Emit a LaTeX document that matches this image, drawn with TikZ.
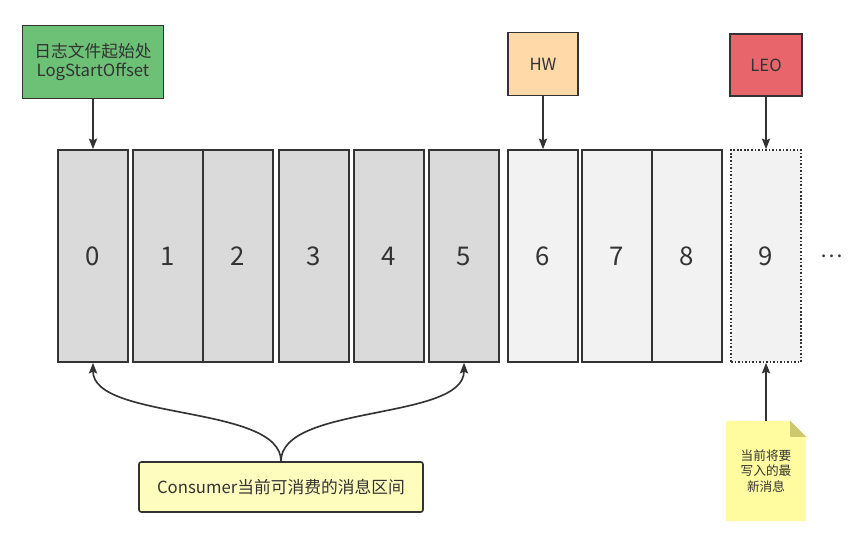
\documentclass[tikz,border=0pt]{standalone}
\usepackage{fontspec}
\setmainfont{Noto Sans CJK SC}
\usetikzlibrary{arrows.meta,positioning,backgrounds}
\definecolor{inkgray}{RGB}{51,51,51}
\definecolor{oldgray}{RGB}{218,218,218}
\definecolor{newgray}{RGB}{242,242,242}
\definecolor{startgreen}{RGB}{108,193,118}
\definecolor{hworange}{RGB}{255,217,168}
\definecolor{leored}{RGB}{232,101,107}
\definecolor{rangeyellow}{RGB}{255,253,190}
\definecolor{noteyellow}{RGB}{255,252,160}
\definecolor{notefold}{RGB}{205,200,110}

\begin{document}
\begin{tikzpicture}[x=0.03cm,y=-0.03cm,
  every node/.style={font=\fontsize{14.3}{17}\selectfont,text=inkgray},
  msgbox/.style={draw=inkgray,line width=1.4pt,minimum width=2.1cm,minimum height=6.36cm,
    inner sep=0pt,font=\fontsize{22}{26}\selectfont},
  tagbox/.style={draw=inkgray,line width=1.4pt,align=center,inner sep=0pt},
  arr/.style={draw=inkgray,line width=1.4pt,-{Stealth[length=9pt,width=7pt,inset=1.5pt]}}]
\useasboundingbox (0,0) rectangle (863,542);
\foreach \n/\cx/\col in {0/93/oldgray,1/168/oldgray,2/238/oldgray,3/314/oldgray,4/389/oldgray,
  5/464/oldgray,6/543/newgray,7/617/newgray,8/687/newgray}
  \node[msgbox,fill=\col] (b\n) at (\cx,256) {\n};
\node[msgbox,fill=newgray,dash pattern=on 1.4pt off 1.6pt] (b9) at (766,256) {9};
\node[font=\fontsize{18}{20}\selectfont] (more) at (832,256) {…};
\node[tagbox,fill=startgreen,minimum width=4.23cm,minimum height=2.19cm] (start) at (93,62)
  {日志文件起始处\\LogStartOffset};
\node[tagbox,fill=hworange,minimum width=2.1cm,minimum height=1.89cm] (hw) at (543,64) {HW};
\node[tagbox,fill=leored,minimum width=2.16cm,minimum height=1.86cm] (leo) at (766,65) {LEO};
\node[tagbox,fill=rangeyellow,rounded corners=2pt,minimum width=8.52cm,minimum height=1.5cm]
  (range) at (281,487) {Consumer当前可消费的消息区间};
\node[align=center,minimum width=2.4cm,minimum height=3cm,font=\fontsize{10.8}{13.2}\selectfont]
  (note) at (766,471) {当前将要\\写入的最\\新消息};
\begin{scope}[on background layer]
\fill[noteyellow] (note.north west) -- ([xshift=-0.48cm]note.north east)
  -- ([yshift=-0.48cm]note.north east) -- (note.south east) -- (note.south west) -- cycle;
\fill[notefold] ([xshift=-0.48cm]note.north east) -- ([yshift=-0.48cm]note.north east)
  -- ([xshift=-0.48cm,yshift=-0.48cm]note.north east) -- cycle;
\end{scope}
\draw[arr] (start) -- (b0);
\draw[arr] (hw) -- (b6);
\draw[arr] (leo) -- (b9);
\draw[arr] (note) -- (b9);
\draw[arr] (range.north) .. controls +(0,-57) and +(0,58) .. (b0.south);
\draw[arr] (range.north) .. controls +(0,-57) and +(0,58) .. (b5.south);
\end{tikzpicture}
\end{document}
